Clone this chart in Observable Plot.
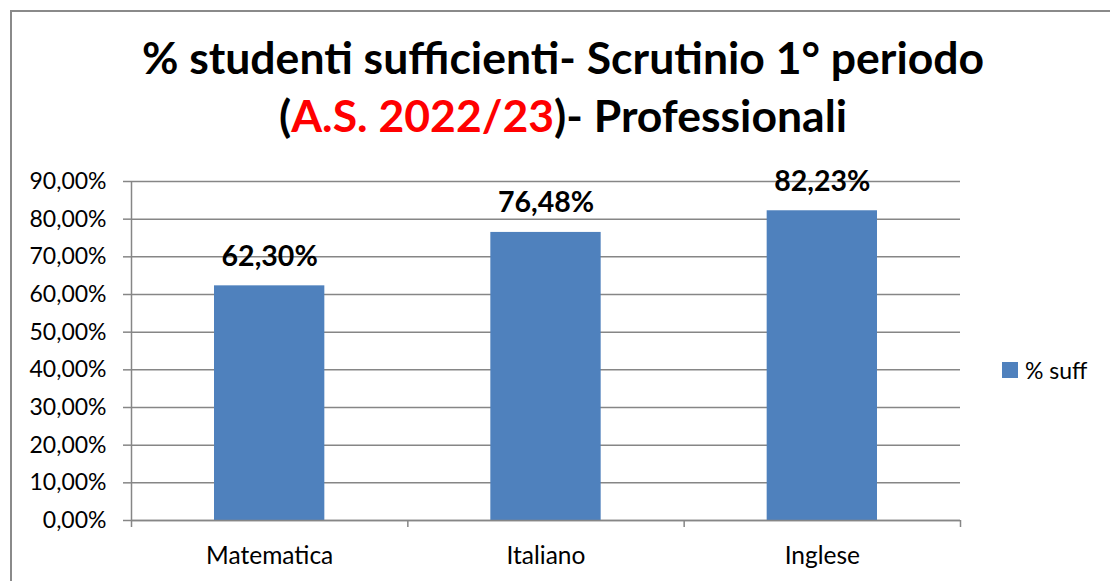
<!DOCTYPE html>
<html>
<head>
<meta charset="utf-8">
<script src="https://cdn.jsdelivr.net/npm/d3@7"></script>
<script src="https://cdn.jsdelivr.net/npm/@observablehq/plot@0.6"></script>
<style>
  html, body { margin: 0; padding: 0; background: #fff; }
  #wrap { position: relative; width: 1110px; height: 581px; overflow: hidden; font-family: Lato, "Open Sans", sans-serif; }
  #border { position: absolute; left: 10px; top: 10px; width: 1300px; height: 800px; border: 2px solid #8a8a8a; box-sizing: border-box; }
  .title { position: absolute; left: 0; width: 1126px; text-align: center; font-weight: bold; font-size: 44.5px; color: #000; white-space: nowrap; line-height: 1; }
  .red { color: #ff0000; }
  #chart { position: absolute; left: 0; top: 160px; }
  #legend { position: absolute; left: 1002px; top: 356px; font-size: 23px; color: #000; display: flex; align-items: center; }
  #legend .sw { width: 16px; height: 16px; background: #4F81BD; margin-right: 7px; }
</style>
</head>
<body>
<div id="wrap">
  <div id="border"></div>
  <div class="title" id="t1" style="top:35px">% studenti sufficienti- Scrutinio 1° periodo</div>
  <div class="title" id="t2" style="top:93px">(<span class="red">A.S. 2022/23</span>)- Professionali</div>
  <div id="chart"></div>
  <div id="legend"><div class="sw"></div><span>% suff</span></div>
</div>
<script>
const categories = ["Matematica", "Italiano", "Inglese"];
const values = [0.6230, 0.7648, 0.8223];
const yTicks = [0, 0.1, 0.2, 0.3, 0.4, 0.5, 0.6, 0.7, 0.8, 0.9];
const xBoundaries = [0, 1, 2, 3];

const data = categories.map((c, i) => ({ cat: c, i, v: values[i] }));
const pct = d => (d * 100).toFixed(2).replace(".", ",") + "%";

const gray = "#868686";

const chart = Plot.plot({
  width: 1110,
  height: 421,
  marginLeft: 131,
  marginRight: 150,
  marginTop: 21,
  marginBottom: 61,
  style: { fontFamily: "Lato, 'Open Sans', sans-serif", color: "#000", background: "transparent" },
  x: { domain: [0, 3], axis: null },
  y: { domain: [0, 0.9], axis: null },
  marks: [
    Plot.gridY(yTicks, { stroke: gray, strokeOpacity: 1, strokeWidth: 1.5 }),
    Plot.axisY(yTicks, { label: null, tickSize: 8, tickPadding: 17, stroke: gray, strokeWidth: 1.5, tickFormat: pct, fontSize: 23, fill: "#000" }),
    Plot.axisX(xBoundaries, { label: null, tickSize: 7, tickFormat: () => "", stroke: gray, strokeWidth: 1.5 }),
    Plot.rectY(data, { x1: "i", x2: d => d.i + 1, y: "v", fill: "#4F81BD", insetLeft: 83, insetRight: 83 }),
    Plot.ruleY([0], { stroke: gray, strokeWidth: 1.5 }),
    Plot.ruleX([0], { y1: 0, y2: 0.9, stroke: gray, strokeWidth: 1.5 }),
    Plot.text(data, { x: d => d.i + 0.5, y: "v", text: d => pct(d.v), lineAnchor: "bottom", dy: -20, fontSize: 28.5, fontWeight: "bold", fill: "#000" }),
    Plot.text(data, { x: d => d.i + 0.5, y: 0, text: "cat", lineAnchor: "bottom", dy: 43, fontSize: 24.5, fill: "#000" })
  ]
});
document.getElementById("chart").appendChild(chart);
</script>
</body>
</html>
